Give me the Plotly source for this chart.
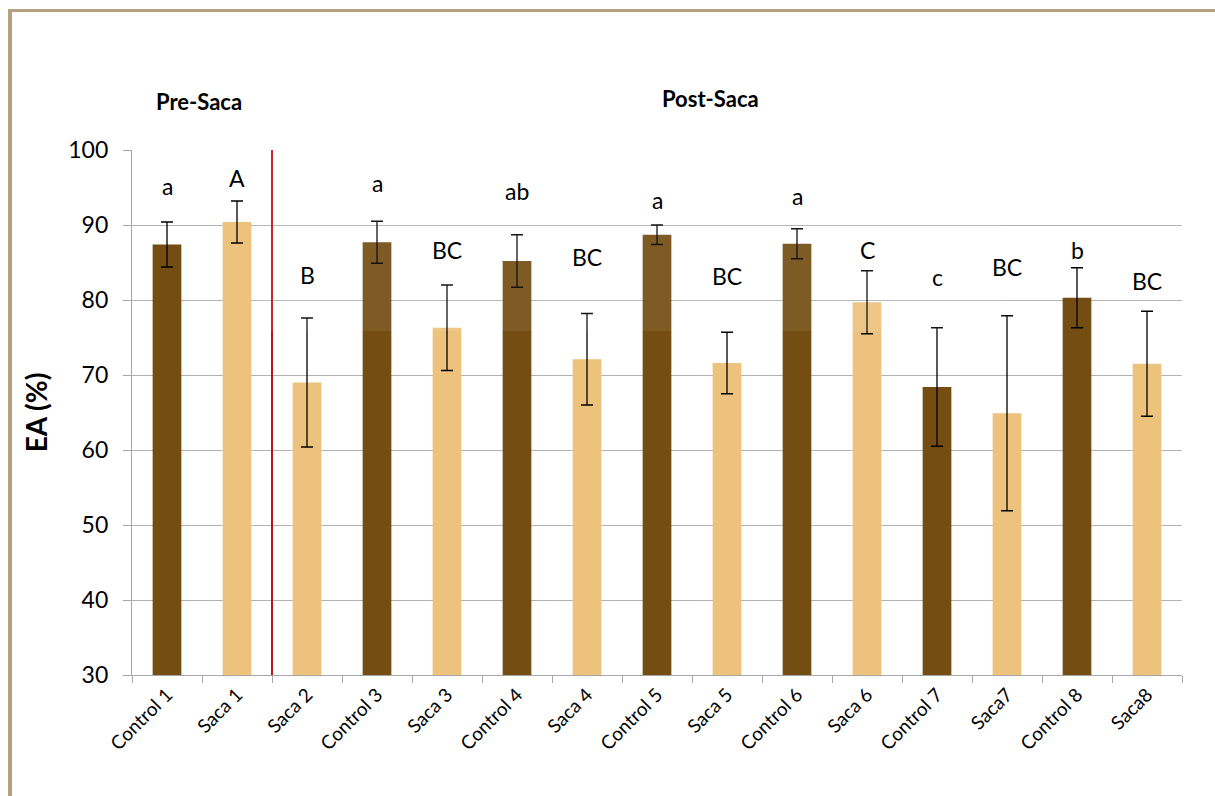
import plotly.graph_objects as go

# Treatments in plotting order
categories = ["Control 1", "Saca 1", "Saca 2", "Control 3", "Saca 3", "Control 4", "Saca 4",
              "Control 5", "Saca 5", "Control 6", "Saca 6", "Control 7", "Saca7", "Control 8", "Saca8"]
# Mean EA (%) and standard deviation
ea_mean = [87.4, 90.4, 69.0, 87.7, 76.3, 85.2, 72.1, 88.7, 71.6, 87.5, 79.7, 68.4, 64.9, 80.3, 71.5]
ea_sd = [3.0, 2.8, 8.6, 2.8, 5.7, 3.5, 6.1, 1.3, 4.1, 2.0, 4.2, 7.9, 13.0, 4.0, 7.0]
# Significance letters
letters = ["a", "A", "B", "a", "BC", "ab", "BC", "a", "BC", "a", "C", "c", "BC", "b", "BC"]
# Height (axis units) at which each letter is written
letter_y = [95.2, 96.3, 83.3, 95.6, 86.7, 94.5, 85.7, 93.3, 83.2, 93.9, 86.7, 83.1, 84.4, 86.7, 82.5]

DARK = "#734d12"
LIGHT = "#edc27d"
FONT = "Lato"

colors = [DARK if c.startswith("Control") else LIGHT for c in categories]

fig = go.Figure()
fig.add_trace(go.Bar(
    x=categories,
    y=ea_mean,
    base=0,
    marker=dict(color=colors, line=dict(width=0)),
    width=0.41,
    error_y=dict(type="data", array=ea_sd, visible=True, color="black", thickness=1.3, width=6),
    showlegend=False,
    hoverinfo="x+y",
))

annotations = []
for cat, lab, ly in zip(categories, letters, letter_y):
    annotations.append(dict(x=cat, y=ly, xref="x", yref="y", text=lab, showarrow=False,
                            font=dict(family=FONT, size=23, color="black"),
                            xanchor="center", yanchor="middle"))


def px_x(px):
    return (px - 132) / 1050


def px_y(py):
    return (675 - py) / 525


# Period headings
annotations.append(dict(x=px_x(199), y=px_y(101), xref="paper", yref="paper",
                        text="<b>Pre-Saca</b>", showarrow=False,
                        font=dict(family=FONT, size=22, color="black"),
                        xanchor="center", yanchor="middle"))
annotations.append(dict(x=px_x(710), y=px_y(98), xref="paper", yref="paper",
                        text="<b>Post-Saca</b>", showarrow=False,
                        font=dict(family=FONT, size=22, color="black"),
                        xanchor="center", yanchor="middle"))

shapes = [
    # separator between the pre and post periods
    dict(type="line", xref="x", yref="paper", x0=1.5, x1=1.5, y0=0, y1=1,
         line=dict(color="#c0141c", width=2)),
    # frame edges (top and left)
    dict(type="rect", xref="paper", yref="paper", x0=px_x(8), x1=px_x(1215), y0=px_y(12), y1=px_y(9),
         fillcolor="#b5a07f", line=dict(width=0), layer="above"),
    dict(type="rect", xref="paper", yref="paper", x0=px_x(8), x1=px_x(12), y0=px_y(796), y1=px_y(9),
         fillcolor="#b5a07f", line=dict(width=0), layer="above"),
    # light veil over the upper middle of the chart
    dict(type="rect", xref="paper", yref="paper", x0=px_x(255), x1=px_x(1005), y0=px_y(331), y1=px_y(35),
         fillcolor="rgba(255,255,255,0.08)", line=dict(width=0), layer="above"),
]

fig.update_layout(
    width=1215, height=796,
    margin=dict(l=132, r=33, t=150, b=121, autoexpand=False),
    paper_bgcolor="white", plot_bgcolor="white",
    bargap=0.59,
    font=dict(family=FONT, color="black"),
    annotations=annotations,
    shapes=shapes,
    xaxis=dict(
        type="category",
        tickangle=-45,
        tickfont=dict(family=FONT, size=19, color="black"),
        tickson="boundaries",
        ticks="outside", ticklen=7, tickcolor="#a6a6a6", tickwidth=1.3,
        showline=True, linecolor="#a6a6a6", linewidth=1.3,
        showgrid=False,
        range=[-0.5, 14.5],
    ),
    yaxis=dict(
        range=[30, 100],
        tickvals=[30, 40, 50, 60, 70, 80, 90, 100],
        tickfont=dict(family=FONT, size=23, color="black"),
        ticks="outside", ticklen=8, tickcolor="#a6a6a6", tickwidth=1.3,
        showline=True, linecolor="#a6a6a6", linewidth=1.3,
        showgrid=True, gridcolor="#b3b3b3", gridwidth=1.3,
        zeroline=False,
        ticklabelstandoff=10,
        title=dict(text="<b>EA (%)</b>", font=dict(family=FONT, size=28, color="black"), standoff=12),
    ),
)

fig.write_html("out.html")
